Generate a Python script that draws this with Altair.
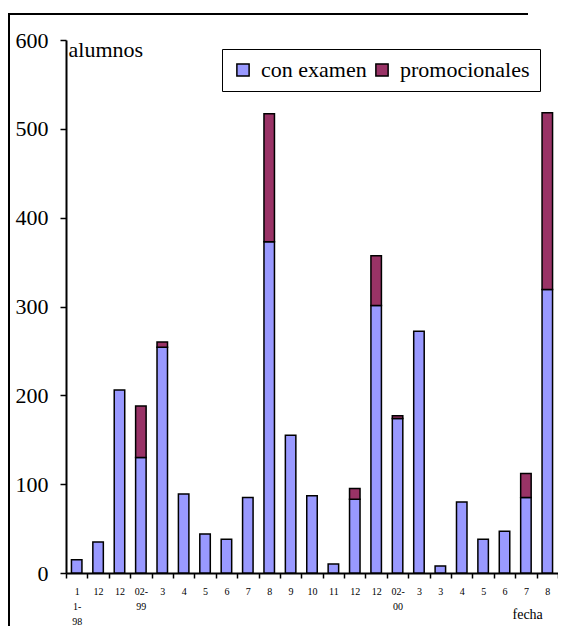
import json
import altair as alt
import pandas as pd

# ---- data ----
labels = ["1\n1-\n98", "12", "12", "02-\n99", "3", "4", "5", "6", "7", "8", "9",
          "10", "11", "12", "12", "02-\n00", "3", "3", "4", "5", "6", "7", "8"]
con_examen = [15, 35, 206, 130, 254, 89, 44, 38, 85, 373, 155,
              87, 10, 83, 301, 174, 272, 8, 80, 38, 47, 85, 319]
promocionales = [0, 0, 0, 58, 6, 0, 0, 0, 0, 144, 0,
                 0, 0, 12, 56, 3, 0, 0, 0, 0, 0, 27, 199]
series = ["con examen", "promocionales"]
colors = ["#9999FF", "#993366"]

rows = []
for i in range(len(labels)):
    for s, vals, o in ((series[0], con_examen, 0), (series[1], promocionales, 1)):
        if vals[i] > 0:
            rows.append({"idx": i, "serie": s, "valor": vals[i], "orden": o})
df = pd.DataFrame(rows)

label_arr = json.dumps([l.replace("\n", "|") for l in labels])
label_expr = ("isValid(datum.value) && datum.value >= 0 && datum.value < " + str(len(labels))
              + " ? split(" + label_arr + "[datum.value], '|') : ''")

FONT = "Times New Roman"
W, H = 492, 533          # plot area
PL, PT = 58, 32          # padding left/top (page margin is 8 px)
PB = 53                  # bottom padding -> svg height 618

bars = alt.Chart(df).mark_bar(size=10.5, stroke="black", strokeWidth=1.5).encode(
    x=alt.X("idx:O",
            scale=alt.Scale(paddingInner=0, paddingOuter=0),
            axis=alt.Axis(labelAngle=0, tickBand="extent", labelExpr=label_expr,
                          labelFont=FONT, labelFontSize=10, labelColor="black",
                          labelPadding=8, labelLineHeight=15, labelBaseline="top",
                          tickSize=5, tickColor="black", tickWidth=1.5,
                          domainColor="black", domainWidth=2,
                          title="fecha", titleFont=FONT, titleFontSize=14,
                          titleFontWeight="normal", titleColor="black",
                          titleAlign="left", titleBaseline="alphabetic",
                          titleX=446, titleY=45)),
    y=alt.Y("valor:Q", stack="zero",
            scale=alt.Scale(domain=[0, 600], nice=False),
            axis=alt.Axis(values=[0, 100, 200, 300, 400, 500, 600], grid=False,
                          labelFont=FONT, labelFontSize=22, labelColor="black",
                          labelPadding=12, tickSize=6, tickColor="black", tickWidth=1.5,
                          domainColor="black", domainWidth=2,
                          title="alumnos", titleFont=FONT, titleFontSize=22,
                          titleFontWeight="normal", titleColor="black",
                          titleAngle=0, titleAlign="left", titleBaseline="alphabetic",
                          titleX=2, titleY=16)),
    color=alt.Color("serie:N",
                    scale=alt.Scale(domain=series, range=colors),
                    legend=alt.Legend(title=None, orient="none", legendX=156, legendY=9,
                                      direction="horizontal", strokeColor="black",
                                      fillColor="white", padding=10,
                                      symbolType="square", symbolSize=150,
                                      symbolStrokeColor="black", symbolStrokeWidth=1.5,
                                      symbolOpacity=1,
                                      labelFont=FONT, labelFontSize=22, labelColor="black",
                                      labelOffset=7, columnPadding=4)),
    order=alt.Order("orden:Q", sort="ascending"),
)

one = pd.DataFrame({"k": [0]})
border_left = alt.Chart(one).mark_rect(color="black", strokeWidth=0).encode(
    x=alt.value(-58), x2=alt.value(-56), y=alt.value(-27), y2=alt.value(H + PB)
)
border_top = alt.Chart(one).mark_rect(color="black", strokeWidth=0).encode(
    x=alt.value(-58), x2=alt.value(W - 30), y=alt.value(-27), y2=alt.value(-25)
)

chart = alt.layer(border_left, border_top, bars).properties(
    width=W, height=H,
    autosize=alt.AutoSizeParams(type="none"),
    padding={"left": PL, "top": PT, "right": 0, "bottom": PB},
).configure(background="white", font=FONT).configure_view(stroke=None)

chart.save("out.html", embed_options={"renderer": "svg", "actions": False})
